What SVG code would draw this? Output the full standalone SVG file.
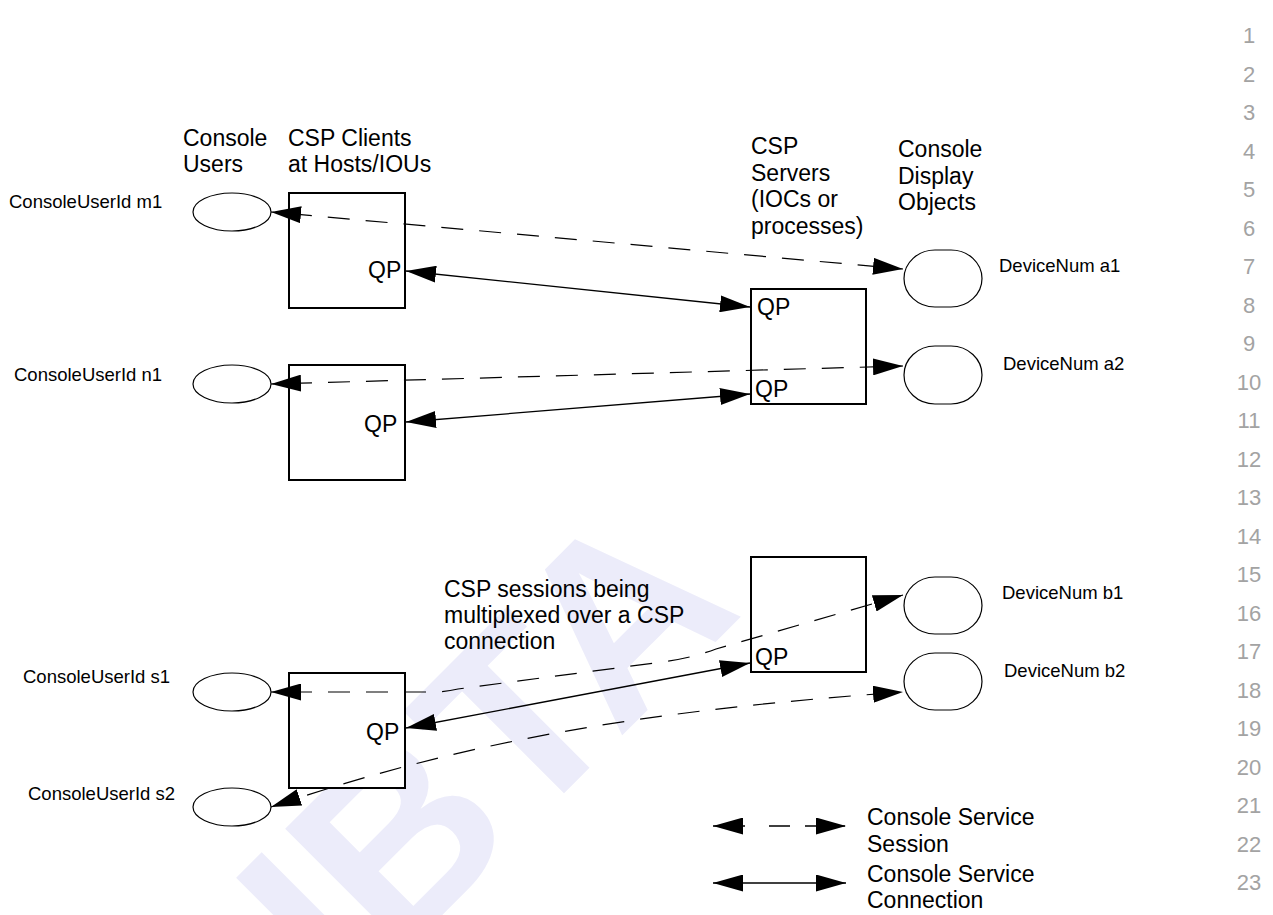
<svg xmlns="http://www.w3.org/2000/svg" width="1273" height="915" viewBox="0 0 1273 915">
<style>
text{font-family:"Liberation Sans",Arial,sans-serif;fill:#000}
.h{font-size:23px}
.s{font-size:18.5px}
.num{font-size:22px;fill:#a3a3a3;text-anchor:middle}
.box{fill:#fff;stroke:#000;stroke-width:2}
.usr{fill:#fff;stroke:#000;stroke-width:1.2}
.dev{fill:#fff;stroke:#000;stroke-width:1.2}
.dash{fill:none;stroke:#000;stroke-width:1.2;stroke-dasharray:22 16;marker-start:url(#ah);marker-end:url(#ah)}
.solid{fill:none;stroke:#000;stroke-width:1.3;marker-start:url(#ah);marker-end:url(#ah)}
.wm{font-family:"Liberation Sans",Arial,sans-serif;font-weight:bold;font-size:250px;fill:#ececfa}
</style>
<defs>
<marker id="ah" viewBox="0 0 30 17" refX="30" refY="8.5" markerWidth="30" markerHeight="17" markerUnits="userSpaceOnUse" orient="auto-start-reverse">
<path d="M0,0 L30,8.5 L0,17 Z" fill="#000"/>
</marker>
</defs>
<rect width="1273" height="915" fill="#fff"/>
<g id="watermark">
<text class="wm" transform="translate(482,748) rotate(-45)" x="0" y="90" text-anchor="middle">IBTA</text>
</g>
<g id="line-numbers">
<text class="num" x="1249" y="43">1</text>
<text class="num" x="1249" y="81.5">2</text>
<text class="num" x="1249" y="120">3</text>
<text class="num" x="1249" y="158.5">4</text>
<text class="num" x="1249" y="197">5</text>
<text class="num" x="1249" y="235.5">6</text>
<text class="num" x="1249" y="274">7</text>
<text class="num" x="1249" y="312.5">8</text>
<text class="num" x="1249" y="351">9</text>
<text class="num" x="1249" y="389.5">10</text>
<text class="num" x="1249" y="428">11</text>
<text class="num" x="1249" y="466.5">12</text>
<text class="num" x="1249" y="505">13</text>
<text class="num" x="1249" y="543.5">14</text>
<text class="num" x="1249" y="582">15</text>
<text class="num" x="1249" y="620.5">16</text>
<text class="num" x="1249" y="659">17</text>
<text class="num" x="1249" y="697.5">18</text>
<text class="num" x="1249" y="736">19</text>
<text class="num" x="1249" y="774.5">20</text>
<text class="num" x="1249" y="813">21</text>
<text class="num" x="1249" y="851.5">22</text>
<text class="num" x="1249" y="890">23</text>
</g>
<g id="headers">
<text class="h" x="183" y="146">Console</text>
<text class="h" x="183" y="172">Users</text>
<text class="h" x="288" y="146">CSP Clients</text>
<text class="h" x="288" y="172">at Hosts/IOUs</text>
<text class="h" x="751" y="154">CSP</text>
<text class="h" x="751" y="180.5">Servers</text>
<text class="h" x="751" y="207">(IOCs or</text>
<text class="h" x="751" y="233.5">processes)</text>
<text class="h" x="898" y="157">Console</text>
<text class="h" x="898" y="183.5">Display</text>
<text class="h" x="898" y="210">Objects</text>
</g>
<g id="note">
<text class="h" x="444" y="597">CSP sessions being</text>
<text class="h" x="444" y="623">multiplexed over a CSP</text>
<text class="h" x="444" y="649">connection</text>
</g>
<g id="user-m1"><ellipse class="usr" cx="232" cy="212" rx="39" ry="19"/><text class="s" x="9" y="208">ConsoleUserId m1</text></g>
<g id="user-n1"><ellipse class="usr" cx="232" cy="384" rx="39" ry="19"/><text class="s" x="14" y="381">ConsoleUserId n1</text></g>
<g id="user-s1"><ellipse class="usr" cx="232" cy="692" rx="39" ry="19"/><text class="s" x="23" y="683">ConsoleUserId s1</text></g>
<g id="user-s2"><ellipse class="usr" cx="232" cy="807" rx="39" ry="19"/><text class="s" x="28" y="800">ConsoleUserId s2</text></g>
<g id="client-1"><rect class="box" x="289" y="193" width="116" height="115"/><text class="h" x="368" y="278">QP</text></g>
<g id="client-2"><rect class="box" x="289" y="365" width="116" height="115"/><text class="h" x="364" y="432">QP</text></g>
<g id="client-3"><rect class="box" x="289" y="673" width="116" height="115"/><text class="h" x="366" y="740">QP</text></g>
<g id="server-1"><rect class="box" x="751" y="289" width="115" height="115"/><text class="h" x="757" y="315">QP</text><text class="h" x="755" y="397">QP</text></g>
<g id="server-2"><rect class="box" x="751" y="557" width="115" height="115"/><text class="h" x="755" y="665">QP</text></g>
<g id="device-a1"><rect class="dev" x="904" y="250" width="78" height="57" rx="31" ry="28.5"/><text class="s" x="999" y="272">DeviceNum a1</text></g>
<g id="device-a2"><rect class="dev" x="904" y="346" width="78" height="58" rx="31" ry="29"/><text class="s" x="1003" y="370">DeviceNum a2</text></g>
<g id="device-b1"><rect class="dev" x="904" y="577" width="78" height="57" rx="31" ry="28.5"/><text class="s" x="1002" y="599">DeviceNum b1</text></g>
<g id="device-b2"><rect class="dev" x="904" y="653" width="78" height="57" rx="31" ry="28.5"/><text class="s" x="1004" y="677">DeviceNum b2</text></g>
<g id="connectors">
<path class="dash" d="M271,212 L903,269" stroke-dashoffset="19"/>
<path class="solid" d="M406,271 L750,307"/>
<path class="dash" d="M271,384 L903,366" stroke-dashoffset="19"/>
<path class="solid" d="M406,422 L750,394"/>
<path class="dash" d="M271,692 L432,692 Q446,692 458,689 L662,662 Q692,658 716,649 L903,595" stroke-dashoffset="19"/>
<path class="dash" d="M271,807 C471,739 653,710 903,692"/>
<path class="solid" d="M406,728 L750,663"/>
</g>
<g id="legend">
<path d="M713,826 L846,826" fill="none" stroke="#000" stroke-width="1.3" stroke-dasharray="32 24 21 15 40" marker-start="url(#ah)" marker-end="url(#ah)"/>
<path d="M713,883 L846,883" fill="none" stroke="#000" stroke-width="1.5" marker-start="url(#ah)" marker-end="url(#ah)"/>
<text class="h" x="867" y="825">Console Service</text>
<text class="h" x="867" y="851.5">Session</text>
<text class="h" x="867" y="882">Console Service</text>
<text class="h" x="867" y="908">Connection</text>
</g>
</svg>
